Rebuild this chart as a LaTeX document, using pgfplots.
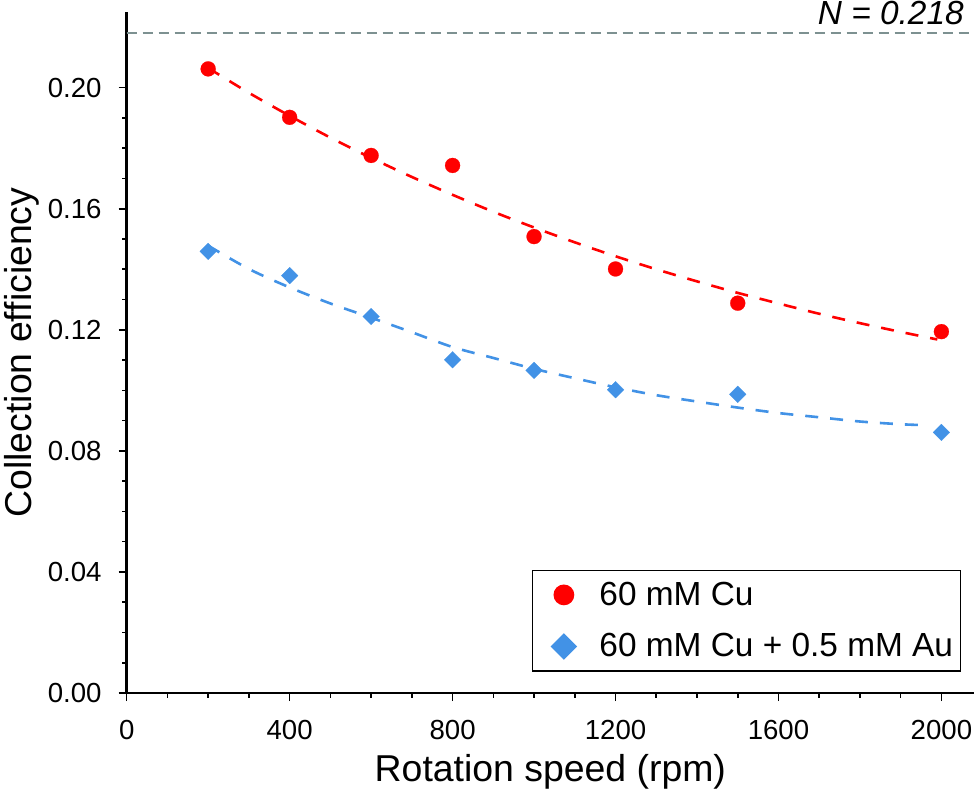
\documentclass[border=0pt]{standalone}
\usepackage{fontspec}
\setmainfont{Liberation Sans}
\usepackage{pgfplots}
\pgfplotsset{compat=1.18}
\usetikzlibrary{calc}
\definecolor{cred}{RGB}{255,0,0}
\definecolor{cblue}{RGB}{66,146,230}
\definecolor{cgray}{RGB}{125,145,145}
\begin{document}
\begin{tikzpicture}
\begin{axis}[
  scale only axis,
  width=423.65pt, height=340.5pt,
  xmin=0, xmax=2080, ymin=0, ymax=0.225,
  axis lines=left,
  axis line style={-, line width=1.3pt},
  xtick={0,400,800,1200,1600,2000},
  ytick={0,0.04,0.08,0.12,0.16,0.20},
  minor tick num=3,
  tick align=outside,
  major tick length=4pt, minor tick length=2.25pt,
  tick style={black, line width=0.8pt},
  /pgf/number format/assume math mode=true,
  xticklabel style={/pgf/number format/1000 sep={}, inner sep=0pt, anchor=north, yshift=-9.35pt},
  yticklabel style={/pgf/number format/.cd, fixed, fixed zerofill, precision=2, /tikz/.cd, inner sep=0pt, anchor=east, xshift=-8.35pt},
  scaled y ticks=false,
  tick label style={font=\fontsize{13.8}{16}\selectfont},
  xlabel={Rotation speed (rpm)},
  ylabel={Collection efficiency},
  label style={font=\fontsize{18.7}{22}\selectfont},
  xlabel style={at={(rel axis cs:0.5,0)}, anchor=base, yshift=-44.35pt},
  ylabel style={at={(rel axis cs:0,0.5)}, anchor=base, yshift=47.35pt},
  legend cell align=left,
  legend style={at={(0.9843,0.0313)}, anchor=south east, draw=black, line width=0.6pt,
    inner xsep=3.5pt, inner ysep=1pt, row sep=3.2pt, column sep=0pt,
    font=\fontsize{16.7}{20}\selectfont, nodes={inner sep=0pt}},
  clip=false,
]
% fits
\addplot[cred, line width=1.3pt, dash pattern=on 6.5pt off 6pt, smooth, forget plot] coordinates {
 (200,0.2065) (300,0.1983) (400,0.1907) (500,0.1835) (600,0.1768) (700,0.1705)
 (800,0.1646) (900,0.1590) (1000,0.1538) (1100,0.1489) (1200,0.1443) (1300,0.1400)
 (1400,0.1360) (1500,0.1322) (1600,0.1287) (1700,0.1253) (1800,0.1222) (1900,0.1193) (1990,0.1168)};
\addplot[cblue, line width=1.3pt, dash pattern=on 6.5pt off 6pt, smooth, forget plot] coordinates {
 (200,0.1478) (300,0.1401) (400,0.1340) (500,0.1287) (600,0.1240) (700,0.1192)
 (800,0.1143) (900,0.1107) (1000,0.1071) (1100,0.1040) (1200,0.1010) (1300,0.0984)
 (1400,0.0963) (1500,0.0943) (1600,0.0925) (1700,0.0911) (1800,0.0897) (1900,0.0888) (1960,0.0885)};
\addplot[cgray, line width=0.85pt, dash pattern=on 5pt off 3pt, forget plot] coordinates {(0,0.218) (2080,0.218)};
% data
\addplot[only marks, mark=*, mark size=3.75pt, mark options={draw=cred, fill=cred, line width=0.1pt},
  legend image code/.code={\path[draw=none, fill=none] (-12.35pt,-11.3pt) rectangle (17.8pt,11.3pt); \fill[cred, draw=none] (0pt,0pt) circle (5.2pt);}]
 coordinates {(200,0.2062) (400,0.1902) (600,0.1776) (800,0.1743) (1000,0.1508) (1200,0.1401) (1500,0.1288) (2000,0.1194)};
\addlegendentry{60 mM Cu}
\addplot[only marks, mark=square*, mark size=2.95pt, mark options={rotate=45, draw=cblue, fill=cblue, line width=0.1pt},
  legend image code/.code={\path[draw=none, fill=none] (-12.35pt,-11.3pt) rectangle (17.8pt,11.3pt); \fill[cblue, draw=none] (0pt,6.67pt) -- (6.67pt,0pt) -- (0pt,-6.67pt) -- (-6.67pt,0pt) -- cycle;}]
 coordinates {(200,0.1459) (400,0.1379) (600,0.1244) (800,0.1101) (1000,0.1066) (1200,0.1002) (1500,0.0987) (2000,0.0861)};
\addlegendentry{60 mM Cu + 0.5 mM Au}
\node[anchor=base east, yshift=4.35pt, font=\itshape\fontsize{16.7}{20}\selectfont] at (axis cs:2072,0.218) {N = 0.218};
\coordinate (bl) at (rel axis cs:0,0);
\coordinate (tr) at (rel axis cs:1,1);
\end{axis}
\pgfresetboundingbox
\path ($(bl)+(-63.35pt,-50.5pt)$) rectangle ($(tr)+(2.5pt,6pt)$);
\end{tikzpicture}
\end{document}
